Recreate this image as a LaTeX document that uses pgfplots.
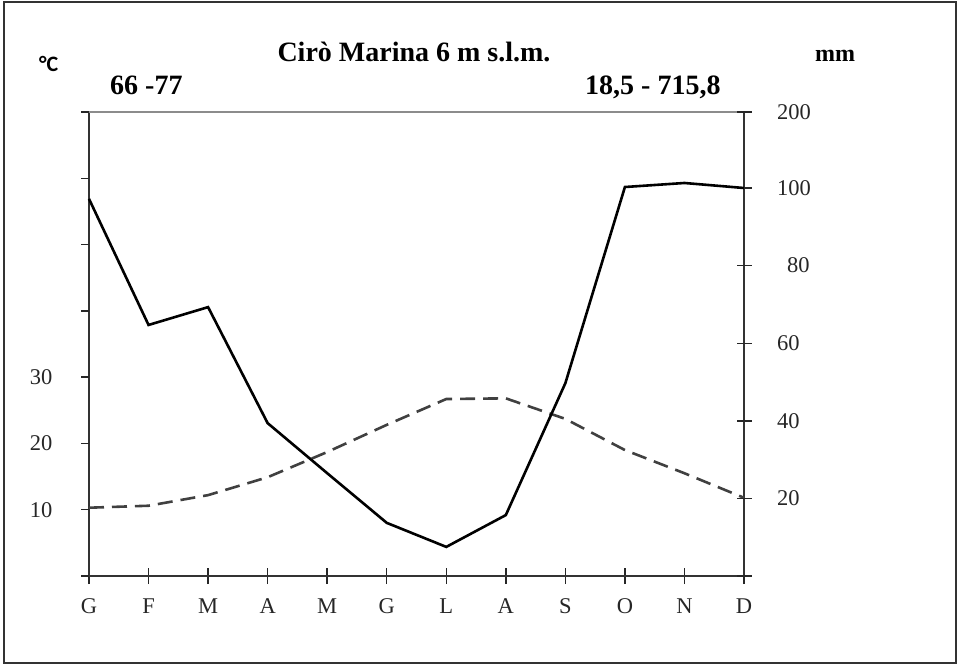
\documentclass[border=0pt]{standalone}
\usepackage{fontspec}
\setmainfont{Liberation Serif}
\newfontfamily\carlito{Carlito}
\usepackage{pgfplots}
\pgfplotsset{compat=1.18}
\begin{document}
\begin{tikzpicture}[x=1pt,y=1pt]
\useasboundingbox (0,0) rectangle (961,664);
\draw[black!80, line width=2pt] (4,1.5) rectangle (956,662);
\pgfplotsset{base/.style={scale only axis, width=655pt, height=464pt,
  at={(89pt,88pt)}, anchor=south west, xmin=0, xmax=11,
  axis line style={draw=none}, clip=false,
  /pgf/number format/assume math mode=true,
  ticklabel style={font=\fontsize{22.5}{22.5}\selectfont, text=black!85}}}
% x axis, frame lines
\begin{axis}[base, ymin=0, ymax=70, ytick=\empty, axis x line*=bottom,
  xtick={0,...,11}, xticklabels={G,F,M,A,M,G,L,A,S,O,N,D},
  tick align=center, major tick length=16pt,
  xtick style={line width=1.4pt, black!85},
  xticklabel style={yshift=-11pt}]
\draw[black!80, line width=2.6pt] (rel axis cs:-0.0107,0) -- (rel axis cs:1.0092,0);
\draw[black!80, line width=2.6pt] (rel axis cs:0,0) -- (rel axis cs:0,1);
\draw[black!80, line width=2.6pt] (rel axis cs:1,0) -- (rel axis cs:1,1);
\draw[black!45, line width=2.6pt] (rel axis cs:0,1) -- (rel axis cs:1,1);
\end{axis}
% temperature (left axis)
\begin{axis}[base, ymin=0, ymax=70, xtick=\empty, axis y line*=left,
  ytick={0,10,...,70}, yticklabels={,10,20,30,,,,},
  tick align=outside, major tick length=8pt,
  ytick style={line width=1.4pt, black!85},
  yticklabel style={xshift=-25pt}]
\addplot[black!75, line width=2.6pt, dash pattern=on 15pt off 8pt] coordinates {
(0,10.3) (1,10.6) (2,12.2) (3,14.9) (4,18.7) (5,22.8)
(6,26.7) (7,26.8) (8,23.7) (9,19.0) (10,15.5) (11,11.8)};
\end{axis}
% precipitation (right axis)
\begin{axis}[base, ymin=0, ymax=119.59, xtick=\empty, axis y line*=right,
  ytick={0,20,40,60,80,100,119.59},
  yticklabels={,20,40,60,{\hspace*{10pt}80},{\raisebox{-8pt}{100}},{\raisebox{-3pt}{200}}},
  tick align=center, major tick length=15pt,
  ytick style={line width=1.4pt, black!85},
  y filter/.expression={y>100 ? 100+(y-100)*0.19588 : y},
  yticklabel style={anchor=west, xshift=22pt}]
\addplot[black, line width=2.6pt] coordinates {
(0,97.2) (1,64.7) (2,69.3) (3,39.4) (4,26.5) (5,13.7)
(6,7.5) (7,15.7) (8,49.7) (9,101.3) (10,106.6) (11,100)};
\end{axis}
\node[anchor=base, font=\fontsize{28}{28}\selectfont\bfseries] at (414,602) {Cirò Marina 6 m s.l.m.};
\node[anchor=base west, inner sep=0pt, font=\fontsize{28}{28}\selectfont\bfseries] at (110,569) {66 -77};
\node[anchor=base west, inner sep=0pt, font=\fontsize{28}{28}\selectfont\bfseries] at (585,569) {18,5 - 715,8};
\node[anchor=base west, inner sep=0pt, font=\fontsize{24}{24}\selectfont\bfseries] at (815,602) {mm};
\node[anchor=base west, inner sep=0pt, font=\carlito\fontsize{22}{22}\selectfont\bfseries] at (39,592) {°C};
\end{tikzpicture}
\end{document}
